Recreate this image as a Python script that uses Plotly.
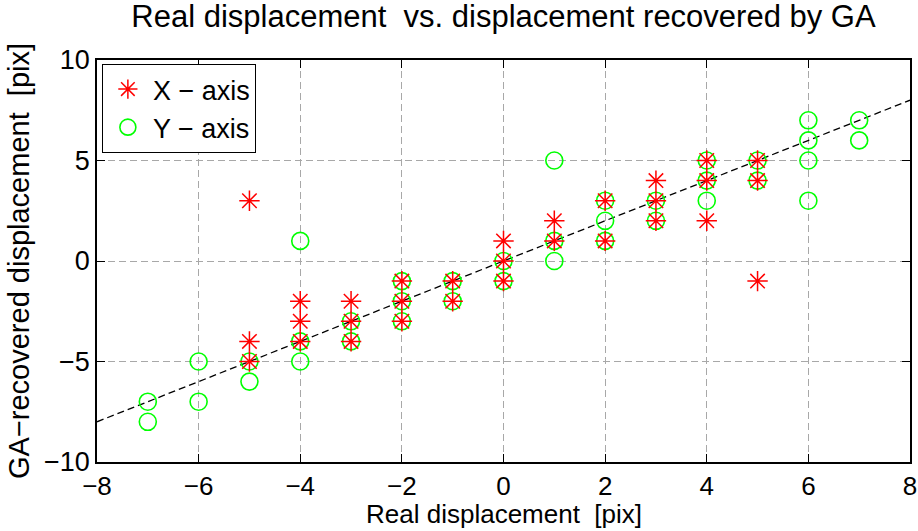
import plotly.graph_objects as go

# X-axis results
x_real = [-5, -5, -5, -4, -4, -4, -3, -3, -3, -2, -2, -2, -1, -1, 0, 0, 0,
          1, 1, 2, 2, 3, 3, 3, 4, 4, 4, 5, 5, 5]
x_rec = [3, -4, -5, -2, -3, -4, -2, -3, -4, -1, -2, -3, -1, -2, 1, 0, -1,
         2, 1, 3, 1, 4, 3, 2, 5, 4, 2, 5, 4, -1]

# Y-axis results
y_real = [-7, -7, -6, -6, -5, -5, -4, -4, -4, -3, -3, -2, -2, -2, -1, -1, 0, 0,
          1, 1, 1, 2, 2, 2, 3, 3, 4, 4, 4, 5, 5, 6, 6, 6, 6, 7, 7]
y_rec = [-7, -8, -5, -7, -5, -6, 1, -4, -5, -3, -4, -1, -2, -3, -1, -2, 0, -1,
         5, 1, 0, 3, 2, 1, 3, 2, 5, 4, 3, 5, 4, 7, 6, 5, 3, 7, 6]

# ideal line
ideal_x = [-8, 8]
ideal_y = [-8, 8]

FONT = "Liberation Sans"
B = 69
PLOT_H = 531 - 60 - B

fig = go.Figure()
fig.add_trace(go.Scatter(x=ideal_x, y=ideal_y, mode="lines",
                         line=dict(color="black", width=1.3, dash="7px,4px"),
                         showlegend=False, hoverinfo="skip"))
fig.add_trace(go.Scatter(x=y_real, y=y_rec, mode="markers", name="Y \u2212 axis",
                         legendrank=2,
                         marker=dict(symbol="circle-open", size=17, color="#00ff00",
                                     line=dict(width=1.6, color="#00ff00"))))
fig.add_trace(go.Scatter(x=x_real, y=x_rec, mode="markers", name="X \u2212 axis",
                         legendrank=1,
                         marker=dict(symbol="asterisk-open", size=17, color="red",
                                     line=dict(width=1.5, color="red"))))

axis_common = dict(
    showline=True, linecolor="black", linewidth=1.5, mirror="ticks",
    ticks="inside", ticklen=8, tickcolor="black", tickwidth=1,
    showgrid=True, gridcolor="#a8a8a8", griddash="7px,4px", gridwidth=1,
    zeroline=False, automargin=False,
)

fig.update_layout(
    width=918, height=531,
    margin=dict(l=97, r=8, t=60, b=B),
    paper_bgcolor="white", plot_bgcolor="white",
    title=dict(text="Real displacement  vs. displacement recovered by GA",
               x=0.5, xref="paper", xanchor="center", y=0.99, yanchor="top",
               font=dict(family=FONT, size=31, color="black"),
               automargin=False),
    xaxis=dict(range=[-8, 8], tickvals=[-8, -6, -4, -2, 0, 2, 4, 6, 8],
               tickfont=dict(family=FONT, size=26, color="black"),
               **axis_common),
    yaxis=dict(range=[-10, 10], tickvals=[-10, -5, 0, 5, 10],
               tickfont=dict(family=FONT, size=27, color="black"),
               title=dict(text="GA\u2212recovered displacement  [pix]", standoff=6,
                          font=dict(family=FONT, size=29, color="black")),
               **axis_common),
    legend=dict(x=0.006, y=0.99, xanchor="left", yanchor="top",
                bgcolor="white", bordercolor="black", borderwidth=1,
                font=dict(family=FONT, size=27, color="black"),
                itemwidth=40, tracegroupgap=0),
    annotations=[dict(text="Real displacement  [pix]", showarrow=False,
                      xref="paper", yref="paper", x=0.5, y=-(B - 1) / PLOT_H,
                      xanchor="center", yanchor="bottom", borderpad=0,
                      font=dict(family=FONT, size=26, color="black"))],
)

fig.write_html("out.html")
